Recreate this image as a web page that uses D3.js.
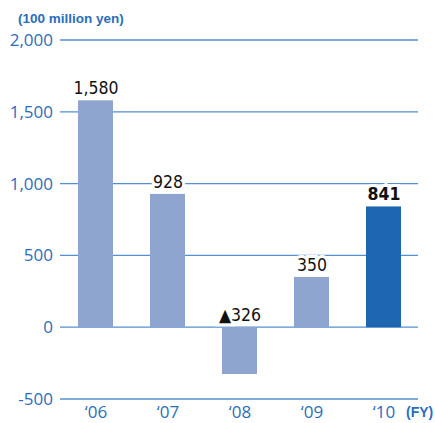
<!DOCTYPE html>
<html><head><meta charset="utf-8">
<script src="https://cdn.jsdelivr.net/npm/d3@7"></script>
<style>body{margin:0;background:#fff;} svg{display:block;}</style>
</head><body>
<svg id="c" width="435" height="423"></svg>
<script>
const categories = ["'06","'07","'08","'09","'10"];
const values = [1580, 928, -326, 350, 841];
const valueLabels = ["1,580","928","▲326","350","841"];
const yTicks = [-500, 0, 500, 1000, 1500, 2000];
const yTickLabels = ["-500","0","500","1,000","1,500","2,000"];

const svg = d3.select("#c");
const x = d3.scaleBand().domain(categories).range([60,420]).paddingInner(0.5).paddingOuter(0.25);
const y = d3.scaleLinear().domain([-500,2000]).range([399,40]);
const blue = "#2a6ebb";
const font = "'DejaVu Sans Condensed','Liberation Sans',sans-serif";

// gridlines
svg.append("g").selectAll("line").data(yTicks).join("line")
  .attr("x1",60).attr("x2",418).attr("y1",d=>y(d)).attr("y2",d=>y(d))
  .attr("stroke","#5390cf").attr("stroke-width",1.3);

// y tick labels
svg.append("g").selectAll("text").data(yTicks).join("text")
  .attr("x",53).attr("y",d=>y(d)+6).attr("text-anchor","end")
  .attr("font-family","'Open Sans','Liberation Sans',sans-serif").attr("font-size",17)
  .attr("fill",blue).text((d,i)=>yTickLabels[i]);

// bars
svg.append("g").selectAll("rect").data(values).join("rect")
  .attr("x",(d,i)=>x(categories[i])).attr("width",x.bandwidth()-1)
  .attr("y",d=>y(Math.max(0,d))).attr("height",d=>Math.abs(y(d)-y(0)))
  .attr("fill",(d,i)=>i===4?"#1f66b1":"#8ea5cf");

// value labels
svg.append("g").selectAll("text").data(values).join("text")
  .attr("x",(d,i)=>x(categories[i])+x.bandwidth()/2)
  .attr("y",d=>(d>0?y(d):y(0))-6)
  .attr("text-anchor","middle").attr("font-family",font).attr("font-size",17.5)
  .attr("font-weight",(d,i)=>i===4?"bold":"normal")
  .attr("stroke","#fff").attr("stroke-width",6).attr("paint-order","stroke")
  .attr("fill","#111").text((d,i)=>valueLabels[i]);

// x labels
svg.append("g").selectAll("text").data(categories).join("text")
  .attr("x",d=>x(d)+x.bandwidth()/2).attr("y",418).attr("text-anchor","middle")
  .attr("font-family","'Open Sans','Liberation Sans',sans-serif").attr("font-size",17)
  .attr("fill",blue).text(d=>d.replace("'","‘"));

svg.append("text").attr("x",406).attr("y",417).attr("font-family","'Liberation Sans',Arial,sans-serif")
  .attr("font-size",14).attr("font-weight","bold").attr("fill",blue).text("(FY)");
svg.append("text").attr("x",18).attr("y",23).attr("font-family","'Liberation Sans',Arial,sans-serif")
  .attr("font-size",13.5).attr("font-weight","bold").attr("fill",blue).text("(100 million yen)");
</script>
</body></html>
